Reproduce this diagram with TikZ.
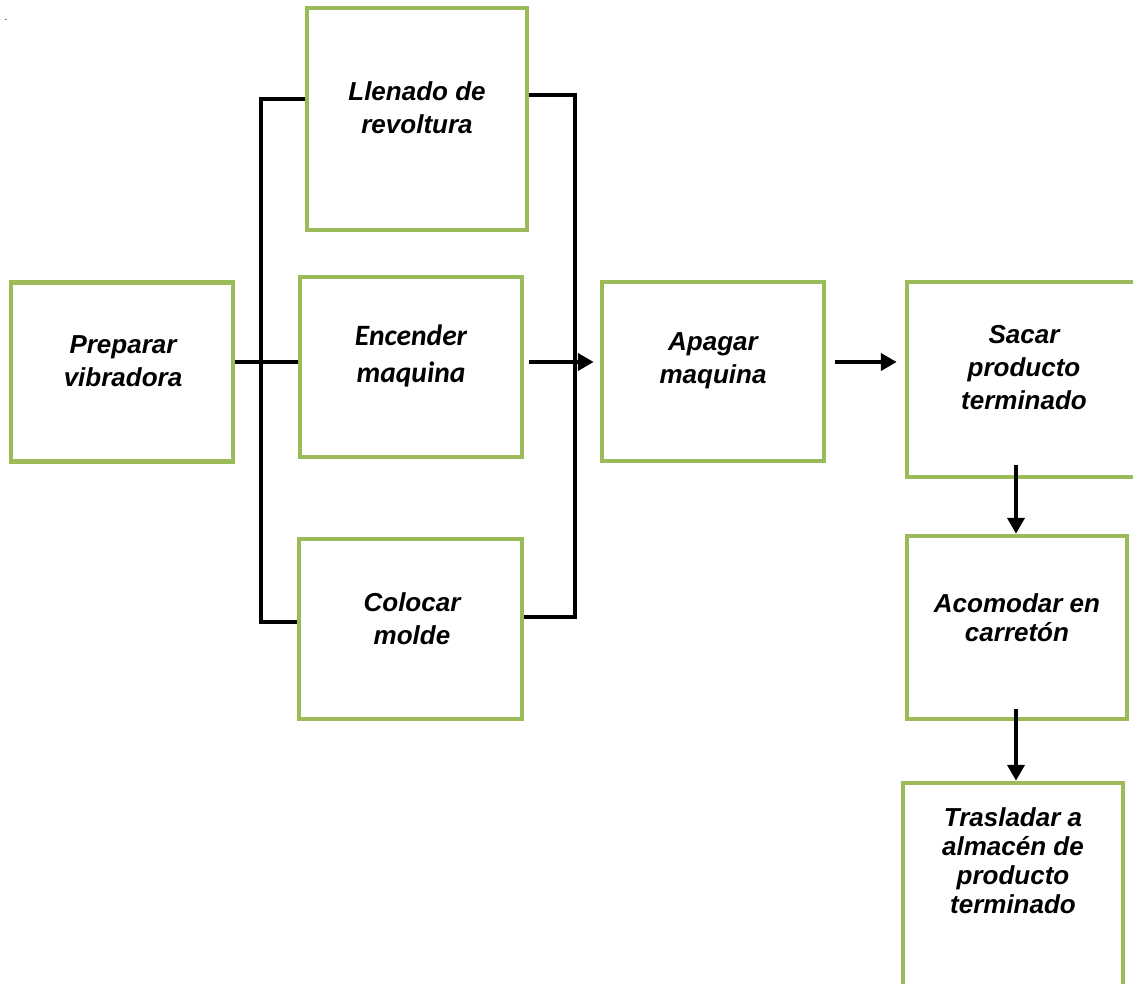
\documentclass[tikz,border=0pt]{standalone}
\usepackage{fontspec}
\setmainfont{Liberation Sans}
\newfontfamily\calibfont{Carlito}
\usepackage{tikz}
\usetikzlibrary{arrows.meta}
\definecolor{boxgreen}{HTML}{9BBB59}

\begin{document}
\begin{tikzpicture}[x=1pt,y=-1pt,
  box/.style={draw=boxgreen,line width=4.5pt,minimum width=#1},
  box/.default=222pt,
  lbl/.style={align=center,font=\fontsize{26}{33}\selectfont\bfseries\itshape},
  lbltight/.style={align=center,font=\fontsize{26}{29}\selectfont\bfseries\itshape},
  conn/.style={line width=4.5pt},
  arr/.style={line width=4.5pt,-{Triangle[length=16pt,width=17pt]}}]
\useasboundingbox (0,0) rectangle (1133,984);
\node (dot) at (6,20) {.};
% boxes
\node[box,minimum height=179pt] (prep) at (122,372) {};
\node[box=220pt,minimum height=222pt] (llen) at (417,119) {};
\node[box,minimum height=180pt] (enc) at (411,367) {};
\node[box=223pt,minimum height=180pt] (col) at (410.5,629) {};
\node[box,minimum height=179pt] (apa) at (713,371.5) {};
\node[box=240pt,minimum height=195pt] (sac) at (1027,379.5) {};
\node[box=220pt,minimum height=183pt] (aco) at (1017,627.5) {};
\node[box=220pt,minimum height=217pt] (tra) at (1013,891.5) {};
% texts
\node[lbl] (prep-t) at (123,361) {Preparar\\vibradora};
\node[lbl] (llen-t) at (417,108) {Llenado de\\revoltura};
\node[lbl,font=\fontsize{29.5}{37}\selectfont\calibfont\bfseries\itshape] (enc-t) at (411,356) {Encender\\maquina};
\node[lbl] (col-t) at (412,619) {Colocar\\molde};
\node[lbl] (apa-t) at (713,361) {Apagar\\maquina};
\node[lbl] (sac-t) at (1024,368) {Sacar\\producto\\terminado};
\node[lbltight] (aco-t) at (1017,618) {Acomodar en\\carretón};
\node[lbltight] (tra-t) at (1013,861) {Trasladar a\\almacén de\\producto\\terminado};
% buses
\coordinate (lt) at (261,99);
\coordinate (lb) at (261,622);
\coordinate (rt) at (575,95);
\coordinate (rb) at (575,617);
\coordinate (mid) at (0,362);
\coordinate (vx) at (1016,0);
\draw[conn] (llen.west |- lt) -- (lt) -- (lb) -- (col.west |- lb);
\draw[conn] (llen.east |- rt) -- (rt) -- (rb) -- (col.east |- rb);
\draw[conn] (prep.east |- mid) -- (enc.west |- mid);
\draw[arr,shorten <=5pt,shorten >=6pt] (enc.east |- mid) -- (apa.west |- mid);
\draw[arr,shorten <=9pt,shorten >=8pt] (apa.east |- mid) -- (sac.west |- mid);
\draw[arr] ([yshift=14pt]sac.south -| vx) -- (aco.north -| vx);
\draw[arr] ([yshift=12pt]aco.south -| vx) -- (tra.north -| vx);
\end{tikzpicture}
\end{document}
